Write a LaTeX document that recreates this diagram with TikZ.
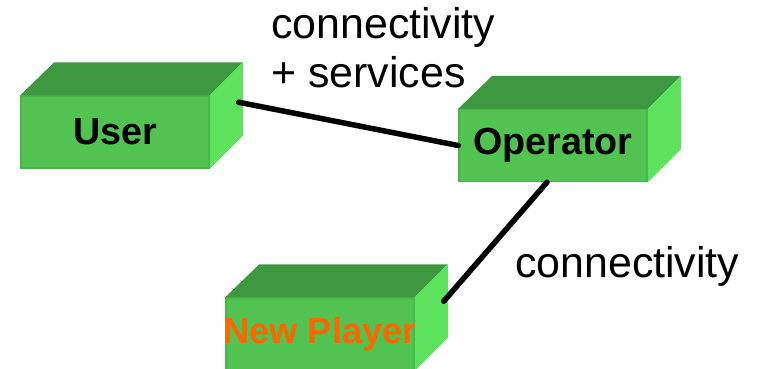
\documentclass[tikz,border=0pt]{standalone}
\usepackage{fontspec}
\setmainfont{Liberation Sans}
\usetikzlibrary{calc}
\definecolor{boxfront}{RGB}{80,195,80}
\definecolor{boxedge}{RGB}{72,182,72}
\definecolor{boxtop}{RGB}{62,152,64}
\definecolor{boxright}{RGB}{92,226,92}
\definecolor{playertext}{RGB}{255,102,0}
\tikzset{
  front/.style={fill=boxfront, draw=boxedge, line width=1.5pt, minimum width=188, minimum height=72, inner sep=0, font=\fontsize{37.7}{45}\selectfont\bfseries},
  link/.style={line width=5.5, line cap=round},
  lbl/.style={inner sep=0, align=left, font=\fontsize{42.9}{49}\selectfont}
}
\begin{document}
\begin{tikzpicture}[x=1pt, y=1pt]
  \useasboundingbox (0,0) rectangle (758,368);
  \node[front] (user) at (115,236) {User};
  \node[front] (operator) at (553,222.5) {Operator};
  \node[front, text=playertext, font=\fontsize{36.2}{44}\selectfont\bfseries] (player) at (320,34) {\makebox[0pt]{New Player}};
  \foreach \b in {user,operator,player} {
    \fill[boxtop] (\b.north west) -- ++(34,33) -- ($(\b.north east)+(33,33)$) -- (\b.north east) -- cycle;
    \fill[boxright] (\b.north east) -- ++(33,33) -- ($(\b.south east)+(33,33)$) -- (\b.south east) -- cycle;
  }
  \draw[link] ($(user.north east)+(29,-7)$) -- (operator.west);
  \draw[link] ($(operator.south)+(-6,0)$) -- ($(player.north east)+(29,-4)$);
  \node[lbl, anchor=base west] (svc) at (271,281) {connectivity\\+ services};
  \node[lbl, anchor=base west] (conn) at (515,91) {connectivity};
\end{tikzpicture}
\end{document}
